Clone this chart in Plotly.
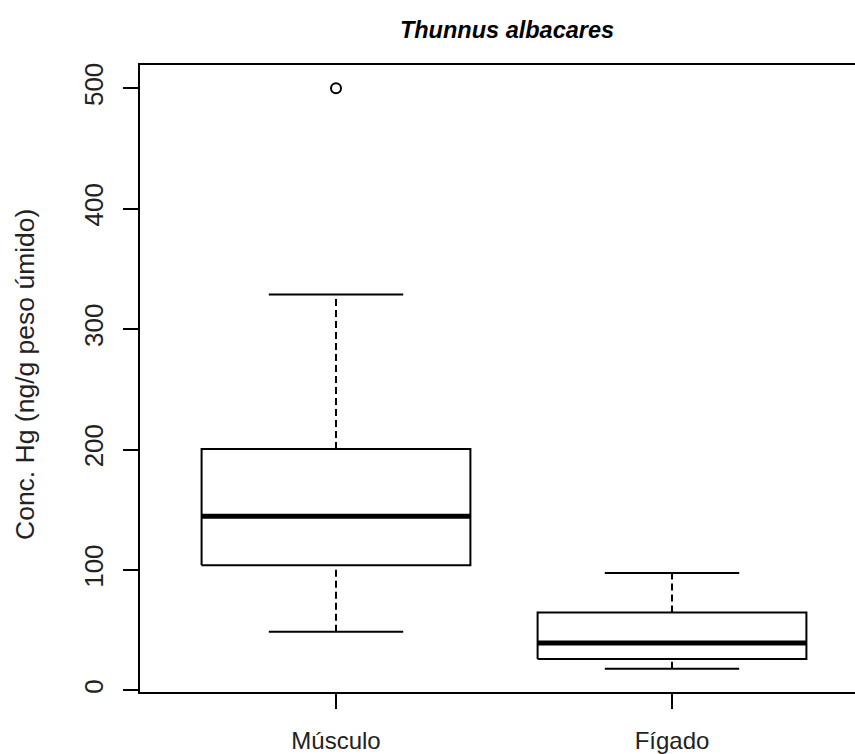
import plotly.graph_objects as go

# ---- data ----
categories = ["Músculo", "Fígado"]
q1 = [104, 26]
median = [144.6, 39.3]
q3 = [200.4, 64.7]
lower_whisker = [48.7, 18]
upper_whisker = [328.7, 97.6]
outliers = [[500], []]
y_ticks = [0, 100, 200, 300, 400, 500]

title_text = "Thunnus albacares"
y_title = "Conc. Hg (ng/g peso úmido)"

# ---- styles ----
BOX_W = 0.8
CAP_W = 0.4
FONT = "Liberation Sans, Arial, sans-serif"

fig = go.Figure()
for i, cat in enumerate(categories):
    c = i + 1
    l, r = c - BOX_W / 2, c + BOX_W / 2
    # whiskers (dashed)
    fig.add_trace(go.Scatter(x=[c, c], y=[q3[i], upper_whisker[i]], mode="lines",
                             line=dict(color="black", width=2, dash="7px,4px"),
                             showlegend=False, hoverinfo="skip"))
    fig.add_trace(go.Scatter(x=[c, c], y=[lower_whisker[i], q1[i]], mode="lines",
                             line=dict(color="black", width=2, dash="7px,4px"),
                             showlegend=False, hoverinfo="skip"))
    # caps
    for v in (upper_whisker[i], lower_whisker[i]):
        fig.add_trace(go.Scatter(x=[c - CAP_W / 2, c + CAP_W / 2], y=[v, v], mode="lines",
                                 line=dict(color="black", width=2),
                                 showlegend=False, hoverinfo="skip"))
    # box
    fig.add_trace(go.Scatter(x=[l, r, r, l, l], y=[q1[i], q1[i], q3[i], q3[i], q1[i]],
                             mode="lines", fill="toself", fillcolor="white",
                             line=dict(color="black", width=2),
                             name=cat, showlegend=False))
    # median
    fig.add_trace(go.Scatter(x=[l, r], y=[median[i], median[i]], mode="lines",
                             line=dict(color="black", width=5),
                             showlegend=False, hoverinfo="skip"))
    # outliers
    if outliers[i]:
        fig.add_trace(go.Scatter(x=[c] * len(outliers[i]), y=outliers[i], mode="markers",
                                 marker=dict(symbol="circle-open", size=10, color="black",
                                             line=dict(width=2, color="black")),
                                 showlegend=False))

fig.update_layout(
    width=855, height=754,
    margin=dict(l=140, r=0, t=65, b=62),
    paper_bgcolor="white", plot_bgcolor="white",
    font=dict(family=FONT, color="black", size=24),
    title=dict(text="<b><i>" + title_text + "</i></b>", xref="container", yref="container",
               x=507 / 855, xanchor="center", y=1 - 30 / 754, yanchor="middle",
               font=dict(size=23.5, family=FONT, color="black")),
    xaxis=dict(range=[0.4167, 2.5446], tickvals=[1, 2], ticktext=categories,
               showgrid=False, zeroline=False, showline=True, linecolor="black",
               linewidth=2, mirror=True, ticks="outside", ticklen=15, tickwidth=2,
               tickcolor="black", ticklabelstandoff=11,
               tickfont=dict(size=24, family=FONT, color="#222")),
    yaxis=dict(range=[-1.3, 519.3], tickvals=y_ticks, ticktext=[str(v) for v in y_ticks],
               showgrid=False, zeroline=False, showline=True, linecolor="black",
               linewidth=2, ticks="outside", ticklen=15, tickwidth=2, tickcolor="black",
               tickangle=-90, ticklabelstandoff=10,
               tickfont=dict(size=26, family=FONT, color="#222")),
    annotations=[dict(text=y_title, textangle=-90, xref="paper", yref="paper",
                      x=(25 - 140) / 715, y=(692 - 375) / 627, xanchor="center",
                      yanchor="middle", showarrow=False,
                      font=dict(size=26.5, family=FONT, color="#222"))],
)

fig.write_html("out.html")
